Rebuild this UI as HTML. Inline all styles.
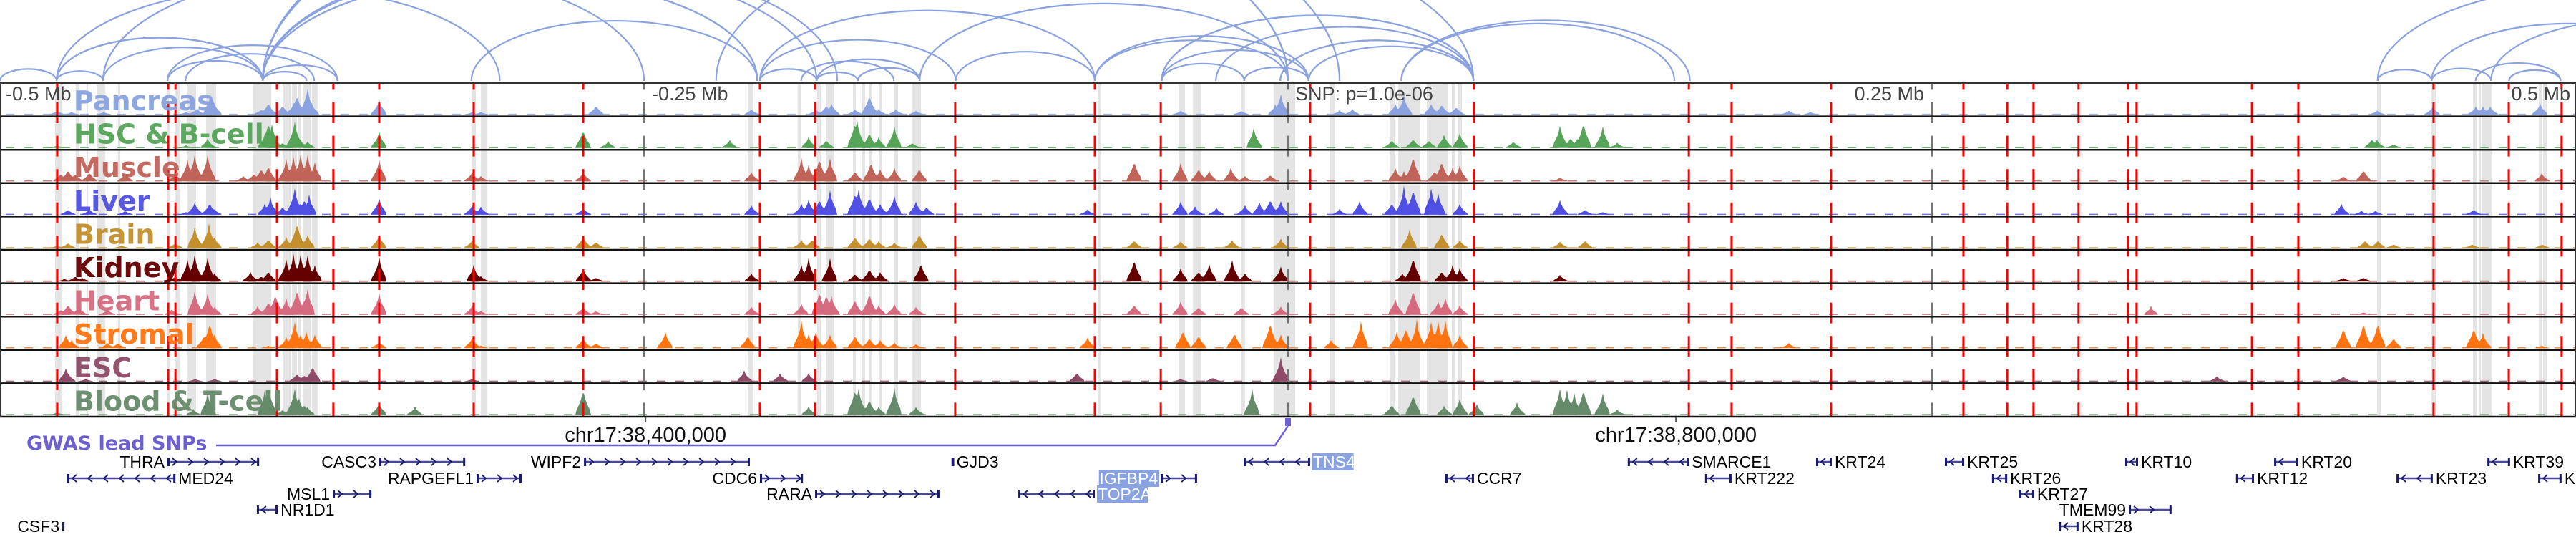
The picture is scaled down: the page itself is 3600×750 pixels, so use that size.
<!DOCTYPE html>
<html><head><meta charset="utf-8">
<style>
html,body{margin:0;padding:0;background:#fff;}
svg{display:block;}
</style></head>
<body>
<svg id="chart" xmlns="http://www.w3.org/2000/svg" width="3600" height="750" viewBox="0 0 3600 750">
<defs><clipPath id="arcclip"><rect x="0" y="0" width="3600" height="114"/></clipPath>
<clipPath id="trackclip"><rect x="0" y="116" width="3600" height="466"/></clipPath></defs>
<g id="arcs" clip-path="url(#arcclip)"></g>
<g id="bands"></g>
<g id="signals"></g>
<g id="vlines" clip-path="url(#trackclip)"></g>
<g id="borders"></g>
<g id="labels"></g>
<g id="axis"></g>
<g id="genes"></g>
</svg>
<script>
const regionKb = [0, 1000];
const snpKb = 500;
const redLineKb = [22.2,65.3,68.1,107.5,129.4,147.2,183.9,226.4,295,316.4,370.8,425,450.6,508.6,572.2,655.6,672.2,710.8,762.2,779.2,789.4,806.9,826.1,829.4,874.2,892.2,944.7,973.9,994.4];
const tickKb = [250, 500, 750];
const bandStart = [21.4,29.4,33.6,37.5,45.8,65,68.1,72.5,80,98.3,109.7,113.3,115.8,117.8,121.1,183.1,186.7,290.3,309.7,317.2,320.6,331.1,334.7,337.5,341.1,347.2,354.2,426.1,457.5,463.1,481.9,494.4,516.1,539.4,542.8,553.9,563.6,566.1,922.8,943.6,960,962.2,963.6,985.6,987.2];
const bandEnd   = [24.2,30.8,34.2,40.8,46.7,65.8,69.7,76.1,83.9,105.3,112.8,115.3,116.9,120.6,123.3,184.7,189.2,292.5,311.1,318.6,323.9,332.2,335.8,338.6,342.5,348.6,357.5,427.5,460,466.1,483.3,502.8,518.1,541.4,551.4,562.2,565,567.5,924.2,945.8,961.4,963.1,967.5,986.7,988.6];
const arcFrom = [0,22,22,40,65,65,72,102,102,102,102,102,22,40,102,102,183,295,295,311,317,333,317,295,371,357,425,425,451,451,451,483,497,508,472,278,544,544,923,944,944,967,974,961,923,22,102,102,451,497];
const arcTo   = [22,40,102,102,102,131,122,119,131,294,317,325,194,250,500,520,294,317,371,347,333,357,357,425,425,500,500,508,508,483,572,508,572,572,572,572,656,650,944,967,1050,1080,994,994,1100,102,500,294,572,572];

const tissues = ['Pancreas','HSC & B-cell','Muscle','Liver','Brain','Kidney','Heart','Stromal','ESC','Blood & T-cell'];
const tissueColors = ['#8aa3e0','#55a457','#c0645a','#4f50e3','#c4902e','#650000','#d66b7f','#ff7410','#8f4a68','#668b6a'];
const pancreasPeaks = [[22.2,.15],[27.8,.1],[40.3,.1],[72.2,.1],[76.4,.25],[81.9,.85],[83.3,.4],[101.4,.2],[104.2,.45],[109.7,.35],[113.9,.4],[115.3,.75],[118.1,.35],[119.4,1],[121.1,.4],[147.2,.55],[183.3,.1],[186.7,.1],[231.4,.35],[291.7,.2],[316.7,.2],[320.8,.35],[322.8,.4],[331.9,.2],[337.5,.75],[341.1,.2],[347.8,.2],[355.6,.15],[458.3,.15],[481.9,.15],[495,.35],[497.2,.75],[520,.15],[525,.2],[541.7,.4],[545,.7],[555.6,.4],[559.7,.4],[565.3,.3],[694.4,.15],[702.8,.1],[922.8,.15],[944.4,.3],[961.1,.3],[963.9,.3],[966.7,.3],[986.1,.4]];
const hscPeaks = [[22.2,.1],[72.2,.1],[80.6,.35],[102.8,.5],[104.2,1],[105.6,.9],[109.7,.2],[114.4,1],[116.7,.3],[119.4,.25],[147.2,.6],[226.4,.7],[236.1,.25],[283.3,.3],[313.9,.4],[320.8,.3],[331.9,1],[332.8,1],[337.5,.6],[341.1,.4],[347.2,.8],[354.2,.2],[486.7,.75],[540.3,.3],[548.6,.35],[554.7,.3],[560.6,.5],[566.7,.55],[587.5,.25],[605.6,.85],[609.7,.4],[612.5,.4],[614.7,1],[622.2,.8],[627.8,.2],[920.8,.35],[922.8,.3],[929.2,.15]];
const musclePeaks = [[23.6,.3],[26.4,.45],[29.2,.3],[34.7,.35],[48.6,.3],[68.1,.3],[72.8,.8],[75.6,1],[80.6,1],[81.1,.5],[94.4,.2],[98.6,.3],[101.4,.5],[104.2,.6],[111.1,.8],[113.9,.9],[116.7,1],[119.4,1],[122.2,.7],[147.2,.8],[183.3,.35],[186.7,.2],[226.4,.35],[291.7,.35],[311.1,.85],[313.9,.6],[318.1,.9],[322.2,.85],[331.9,.4],[338.1,.75],[341.7,.45],[347.2,.5],[356.9,.5],[440.3,.8],[458.3,.7],[465.3,.5],[469.4,.4],[477.8,.5],[483.3,.2],[493.1,.25],[541.7,.5],[545,.35],[548.6,1],[556.9,.4],[559.7,.8],[563.9,.5],[566.7,.6],[605.6,.15],[909.7,.2],[917.5,.45],[986.7,.3]];
const liverPeaks = [[26.4,.2],[34.7,.2],[48.6,.15],[72.2,.1],[75.6,.45],[81.4,.45],[83.3,.2],[102.8,.4],[105,.6],[109.7,.3],[114.4,1],[116.7,.4],[118.1,.6],[120,.7],[147.2,.6],[183.3,.35],[186.7,.3],[226.4,.25],[291.7,.35],[311.1,.4],[313.9,.55],[318.1,.6],[322.2,.9],[331.9,.85],[333.3,.95],[337.5,.7],[341.7,.4],[347.2,.7],[355.6,.5],[359.7,.3],[422.2,.2],[458.3,.5],[463.9,.3],[472.2,.25],[483.3,.35],[488.9,.45],[493.1,.6],[497.2,.5],[520,.2],[527.8,.5],[540.3,.45],[545,1],[548.6,1],[555.6,1],[558.3,.8],[566.7,.4],[605.6,.55],[615.3,.2],[622.2,.1],[908.9,.4],[916.7,.15],[922.2,.15],[960.3,.2]];
const brainPeaks = [[22.2,.1],[26.4,.2],[47.2,.1],[68.1,.2],[75.6,.8],[81.1,.9],[83.3,.4],[100,.2],[104.2,.35],[111.1,.4],[115.3,1],[119.4,.5],[147.2,.5],[183.3,.3],[226.4,.45],[231.4,.25],[311.1,.3],[315.3,.35],[331.9,.45],[337.5,.4],[341.1,.25],[347.2,.2],[356.9,.55],[440.3,.3],[458.3,.25],[478.3,.3],[497.2,.35],[547.2,.7],[559.7,.6],[566.7,.3],[605.6,.25],[615.3,.3],[918.1,.3],[923.1,.3],[929.2,.15],[959.7,.15],[986.9,.15]];
const kidneyPeaks = [[25,.1],[29.2,.2],[31.9,.15],[68.1,.2],[72.8,.8],[75.6,1],[80.6,.9],[83.3,.3],[97.2,.35],[101.4,.2],[104.2,.4],[111.1,.8],[113.9,1],[116.7,1],[119.4,1],[122.2,.6],[147.2,.9],[183.9,.6],[186.7,.2],[226.4,.5],[231.4,.15],[291.7,.3],[311.1,.6],[313.9,.85],[322.2,.85],[331.9,.3],[337.5,.5],[341.7,.35],[357.5,.7],[440.3,.85],[458.3,.5],[465.3,.4],[469.4,.65],[478.3,.8],[483.3,.3],[497.2,.55],[544.4,.3],[548.6,.95],[559.7,.4],[563.9,.6],[566.7,.5],[605.6,.25],[909.7,.15],[917.5,.15]];
const heartPeaks = [[23.6,.2],[26.4,.4],[30.6,.3],[41.7,.2],[66.7,.2],[75.6,.9],[80.6,.8],[83.3,.3],[100,.3],[104.2,.5],[106.9,.8],[111.1,.6],[115.3,1],[118.1,.6],[119.4,1],[147.2,.8],[183.3,.35],[186.7,.15],[226.4,.3],[231.4,.15],[291.7,.3],[311.1,.4],[318.1,.9],[320.8,.8],[322.8,.7],[331.9,.6],[337.5,.85],[341.1,.35],[347.2,.4],[355.6,.3],[440.3,.4],[458.3,.5],[465.3,.3],[481.9,.3],[497.2,.3],[541.7,.6],[548.6,1],[558.3,.5],[561.1,.6],[566.7,.35],[835,.3],[917.5,.1]];
const stromalPeaks = [[25.6,.5],[27.8,.3],[41.7,.2],[45.8,.2],[79.2,.5],[81.4,1],[83.3,.5],[104.2,.1],[111.1,.4],[114.4,1],[116.7,.5],[118.9,.6],[122.2,.5],[147.2,.25],[183.3,.4],[186.7,.1],[226.4,.4],[231.4,.2],[258.3,.6],[290.3,.5],[311.1,1],[313.9,.5],[316.7,.6],[322.2,.5],[331.9,.5],[337.5,.4],[341.7,.3],[347.2,.2],[355.6,.15],[422.2,.4],[459.2,.7],[465.3,.5],[479.2,.6],[493.1,1],[497.2,.5],[516.7,.3],[528.3,1],[542.2,.6],[545.8,.8],[550,1],[555.6,1],[558.3,1],[561.1,1],[566.7,.5],[694.4,.2],[909.7,.8],[917.5,1],[923.1,1],[929.2,.4],[960.3,.8],[963.9,.55],[986.7,.1]];
const escPeaks = [[25.6,.5],[26.4,.3],[33.3,.1],[75.8,.1],[83.3,.1],[115.3,.3],[118.1,.25],[121.4,.6],[183.3,.1],[288.9,.4],[302.8,.3],[313.9,.3],[418.1,.35],[470.8,.15],[458.3,.1],[497.2,.9],[860.6,.2],[909.7,.2]];
const bloodPeaks = [[22.2,.1],[75,.2],[80.6,.8],[102.8,.9],[104.4,1],[109.7,.2],[114.4,1],[116.1,.6],[118.1,.4],[119.4,.3],[147.2,.45],[161.1,.3],[226.4,1],[313.9,.3],[331.9,1],[333.3,1],[337.5,.6],[341.1,.3],[347.2,1],[355.6,.3],[486.1,.95],[540.3,.4],[548.6,.8],[560.6,.35],[566.7,.6],[573.3,.4],[588.9,.45],[605.6,1],[608.3,.95],[611.1,.8],[614.7,1],[622.2,.8],[627.8,.2]];
const tissuePeaks = [pancreasPeaks,hscPeaks,musclePeaks,liverPeaks,brainPeaks,kidneyPeaks,heartPeaks,stromalPeaks,escPeaks,bloodPeaks];

const geneNames  = ['THRA','CASC3','WIPF2','GJD3','TNS4','SMARCE1','KRT24','KRT25','KRT10','KRT20','KRT39','MED24','RAPGEFL1','CDC6','IGFBP4','CCR7','KRT222','KRT26','KRT12','KRT23','KRT19','MSL1','RARA','TOP2A','KRT27','NR1D1','TMEM99','CSF3','KRT28'];
const geneStart  = [65,147.2,226.7,369.6,482.8,631.9,705,755,825,882.8,965.6,26.1,185,295,450.6,561.1,661.9,773.3,868,930.3,985.3,129.2,316.4,395.3,783.9,99.7,826.4,24.2,799.2];
const geneEnd    = [100.6,180.6,291.1,370.2,508.6,655.6,711.1,762.5,830,892.2,974.4,68.1,202.5,311.7,464.7,572.2,672.2,779.2,875,944.4,994.4,144.2,364.7,425,789.7,107.8,843,25,806.9];
const geneStrand = [1,1,1,-1,-1,-1,-1,-1,-1,-1,-1,-1,1,1,1,-1,-1,-1,-1,-1,-1,1,1,-1,-1,-1,1,1,-1];
const geneRow    = [0,0,0,0,0,0,0,0,0,0,0,1,1,1,1,1,1,1,1,1,1,2,2,2,2,3,3,4,4];
const highlighted = ['TNS4','IGFBP4','TOP2A'];

const NS='http://www.w3.org/2000/svg';
const W=3600, TRACK_TOP=116, TRACK_H=46.6, ARC_BASE=113;
const xScale = kb => (kb-regionKb[0])/(regionKb[1]-regionKb[0])*W;
function mk(tag, attrs, parent){const e=document.createElementNS(NS,tag);for(const k in attrs)e.setAttribute(k,attrs[k]);parent.appendChild(e);return e;}

const arcsG=document.getElementById('arcs');
for(let i=0;i<arcFrom.length;i++){
  const x1=xScale(arcFrom[i]), x2=xScale(arcTo[i]); const span=x2-x1;
  const p=mk('path',{d:`M${x1},${ARC_BASE} A${span/2},${span*0.21} 0 0 1 ${x2},${ARC_BASE}`,fill:'none',stroke:'#8aa3e0','stroke-width':2.2},arcsG);
  
  
}
const bandsG=document.getElementById('bands');
for(let i=0;i<bandStart.length;i++){
  const r=mk('rect',{x:xScale(bandStart[i]),y:TRACK_TOP,width:Math.max(2,xScale(bandEnd[i])-xScale(bandStart[i])),height:TRACK_H*10,fill:'#e4e4e4'},bandsG);
  
  
}
const sigG=document.getElementById('signals');
tissues.forEach((t,ti)=>{
  const base=TRACK_TOP+(ti+1)*TRACK_H-2.5, maxH=41;
  const peaks=tissuePeaks[ti];
  let d=`M0,${base}`;
  for(let x=0;x<=W;x+=2){
    let v=0;
    for(const [kb,h] of peaks){const dx=Math.abs(x-xScale(kb));const hw=10;if(dx<hw){const r=dx/hw;v=Math.max(v,h*(1-0.85*Math.sqrt(r)));}}
    d+=` L${x},${(base-v*maxH).toFixed(1)}`;
  }
  d+=` L${W},${base} Z`;
  const g=mk('g',{},sigG);
  
  
  mk('line',{x1:8,x2:W,y1:base-0.5,y2:base-0.5,stroke:tissueColors[ti],'stroke-width':1.5,'stroke-dasharray':'12 14',opacity:0.8},g);
  mk('path',{d:d,fill:tissueColors[ti]},g);
});
const vG=document.getElementById('vlines');
redLineKb.forEach(kb=>{
  const l=mk('line',{x1:xScale(kb),x2:xScale(kb),y1:TRACK_TOP,y2:582,stroke:'#ff0000','stroke-width':3,'stroke-dasharray':'29 17.6','stroke-dashoffset':19.6},vG);
  
  
});
tickKb.forEach(kb=>{
  const l=mk('line',{x1:xScale(kb),x2:xScale(kb),y1:TRACK_TOP,y2:582,stroke:'#777','stroke-width':2,'stroke-dasharray':'29 17.6','stroke-dashoffset':19.6},vG);
  
  
});
const bG=document.getElementById('borders');
for(let i=0;i<=10;i++){const y=TRACK_TOP+i*TRACK_H;mk('line',{x1:0,x2:W,y1:y,y2:y,stroke:i==0?'#333':'#111','stroke-width':i==0?2:2.5},bG);}
mk('line',{x1:1,x2:1,y1:TRACK_TOP,y2:582,stroke:'#333','stroke-width':2},bG);
mk('line',{x1:3599,x2:3599,y1:TRACK_TOP,y2:582,stroke:'#333','stroke-width':2},bG);
const lG=document.getElementById('labels');
tissues.forEach((t,ti)=>{
  const tx=mk('text',{x:103,y:TRACK_TOP+ti*TRACK_H+38,fill:tissueColors[ti],'font-family':'"DejaVu Sans", "Liberation Sans", sans-serif','font-weight':'bold','font-size':38,opacity:0.95},lG);
  tx.textContent=t;
  
  
});
const aG=document.getElementById('axis');
const axisLabels=[['-0.5 Mb',8,'start'],['-0.25 Mb',xScale(250)+11,'start'],['SNP: p=1.0e-06',xScale(snpKb)+10,'start'],['0.25 Mb',xScale(750)-11,'end'],['0.5 Mb',3592,'end']];
axisLabels.forEach(a=>{
  const t=mk('text',{x:a[1],y:140,'text-anchor':a[2],fill:'#444','font-family':'"Liberation Sans", sans-serif','font-size':27},aG);
  t.textContent=a[0];
  
  
});
const coordTicks=[[xScale(snpKb-249.4),'chr17:38,400,000'],[xScale(snpKb+150.6),'chr17:38,800,000']];
coordTicks.forEach(c=>{
  mk('line',{x1:c[0],x2:c[0],y1:582,y2:590,stroke:'#555','stroke-width':2},aG);
  const t=mk('text',{x:c[0],y:617,'text-anchor':'middle',fill:'#111','font-family':'"Liberation Sans", sans-serif','font-size':29},aG);
  t.textContent=c[1];
  
  
});
const gw=mk('text',{x:37,y:628,fill:'#6c5fd0','font-family':'"DejaVu Sans", sans-serif','font-weight':'bold','font-size':27},aG);
gw.textContent='GWAS lead SNPs';


const sx=xScale(snpKb);
mk('path',{d:`M302,622 L${sx-18},622 L${sx},595`,fill:'none',stroke:'#6c5fd0','stroke-width':2.5},aG);
const snpMark=mk('rect',{x:sx-4,y:584,width:8,height:11,fill:'#6c5fd0'},aG);


const gG=document.getElementById('genes');
const rowY=[645,668,690,712,735];
geneNames.forEach((n,i)=>{
  const g=mk('g',{},gG);
  
  
  const x1=xScale(geneStart[i]), x2=xScale(geneEnd[i]), y=rowY[geneRow[i]], s=geneStrand[i];
  mk('line',{x1:x1,x2:x2,y1:y,y2:y,stroke:'#4a4a9a','stroke-width':2.5},g);
  for(let cx=x1+10;cx<x2-6;cx+=22){
    const d=s>0?`M${cx-3},${y-5} L${cx+3},${y} L${cx-3},${y+5}`:`M${cx+3},${y-5} L${cx-3},${y} L${cx+3},${y+5}`;
    mk('path',{d:d,fill:'none',stroke:'#1a1a6e','stroke-width':1.8},g);
  }
  mk('rect',{x:x1,y:y-6,width:3,height:12,fill:'#1a1a6e'},g);
  mk('rect',{x:x2-3,y:y-6,width:3,height:12,fill:'#1a1a6e'},g);
  const left=s>0;
  const tx=left?x1-4:x2+4;
  const hl=highlighted.includes(n);
  const w=n.length*13.4;
  if(hl) mk('rect',{x:left?tx-w-2:tx-1,y:y-12,width:w+4,height:24,fill:'#8aa3e0'},g);
  const t=mk('text',{x:tx,y:y+8,'text-anchor':left?'end':'start',fill:hl?'#fff':'#000','font-family':'"Liberation Sans", sans-serif','font-size':23},g);
  t.textContent=n;
});
</script>
</body></html>
